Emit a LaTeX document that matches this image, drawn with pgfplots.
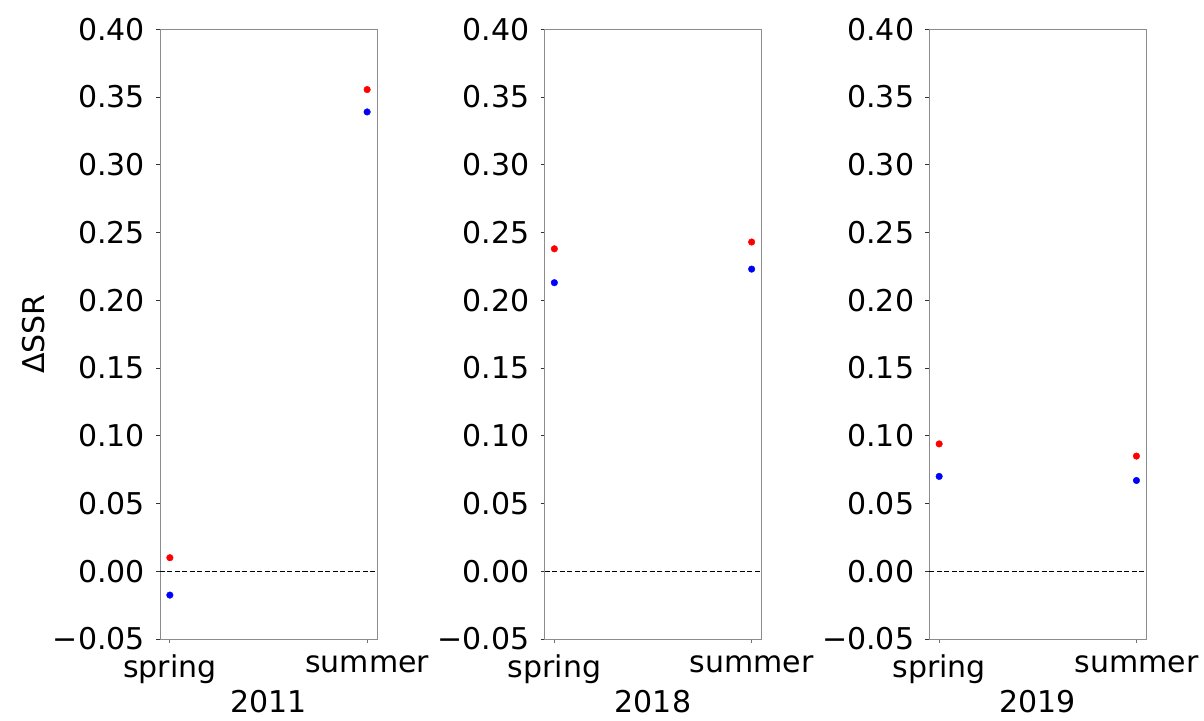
\documentclass[border=0pt]{standalone}
\usepackage{fontspec}
\setmainfont{DejaVu Sans}
\usepackage{pgfplots}
\pgfplotsset{compat=1.18}
\begin{document}
\fontsize{30}{36}\selectfont
\begin{tikzpicture}[x=1pt,y=1pt]
\useasboundingbox (-160,-81) rectangle (1044,639);
\pgfplotsset{
  myax/.style={
    width=217pt, height=609.7pt, scale only axis,
    xmin=-0.05, xmax=1.05, ymin=-0.05, ymax=0.40,
    xtick={0,1}, xticklabels={spring,summer},
    ytick={-0.05,0,0.05,0.10,0.15,0.20,0.25,0.30,0.35,0.40},
    yticklabels={−0.05,0.00,0.05,0.10,0.15,0.20,0.25,0.30,0.35,0.40},
    tick label style={font=\fontsize{30}{36}\selectfont},
    label style={font=\fontsize{30}{36}\selectfont},
    tick align=outside, tick pos=left,
    major tick length=4pt,
    xtick style={black!55, line width=0.9pt},
    ytick style={black!80, line width=0.9pt},
    x axis line style={black!80, line width=0.9pt},
    y axis line style={black!45, line width=0.9pt},
    xticklabel style={yshift=-2pt},
    yticklabel style={xshift=-1pt},
    xlabel style={yshift=14pt},
    ylabel style={yshift=-12pt},
    clip=false,
  },
  r/.style={only marks, mark=*, mark size=3.3pt, color=red, mark options={draw=red, fill=red}},
  b/.style={only marks, mark=*, mark size=3.3pt, color=blue, mark options={draw=blue, fill=blue}},
  z/.style={black, dash pattern=on 5pt off 2.5pt, line width=1.1pt, forget plot},
}
\begin{axis}[myax, at={(0,0)}, xlabel={2011}, ylabel={ΔSSR}]
\addplot[z] coordinates {(-0.05,0) (1.05,0)};
\addplot[r] coordinates {(0,0.010) (1,0.3555)};
\addplot[b] coordinates {(0,-0.0176) (1,0.339)};
\end{axis}
\begin{axis}[myax, at={(384.5pt,0)}, xlabel={2018}]
\addplot[z] coordinates {(-0.05,0) (1.05,0)};
\addplot[r] coordinates {(0,0.238) (1,0.243)};
\addplot[b] coordinates {(0,0.213) (1,0.223)};
\end{axis}
\begin{axis}[myax, at={(769.3pt,0)}, xlabel={2019}]
\addplot[z] coordinates {(-0.05,0) (1.05,0)};
\addplot[r] coordinates {(0,0.094) (1,0.085)};
\addplot[b] coordinates {(0,0.070) (1,0.067)};
\end{axis}
\end{tikzpicture}
\end{document}
